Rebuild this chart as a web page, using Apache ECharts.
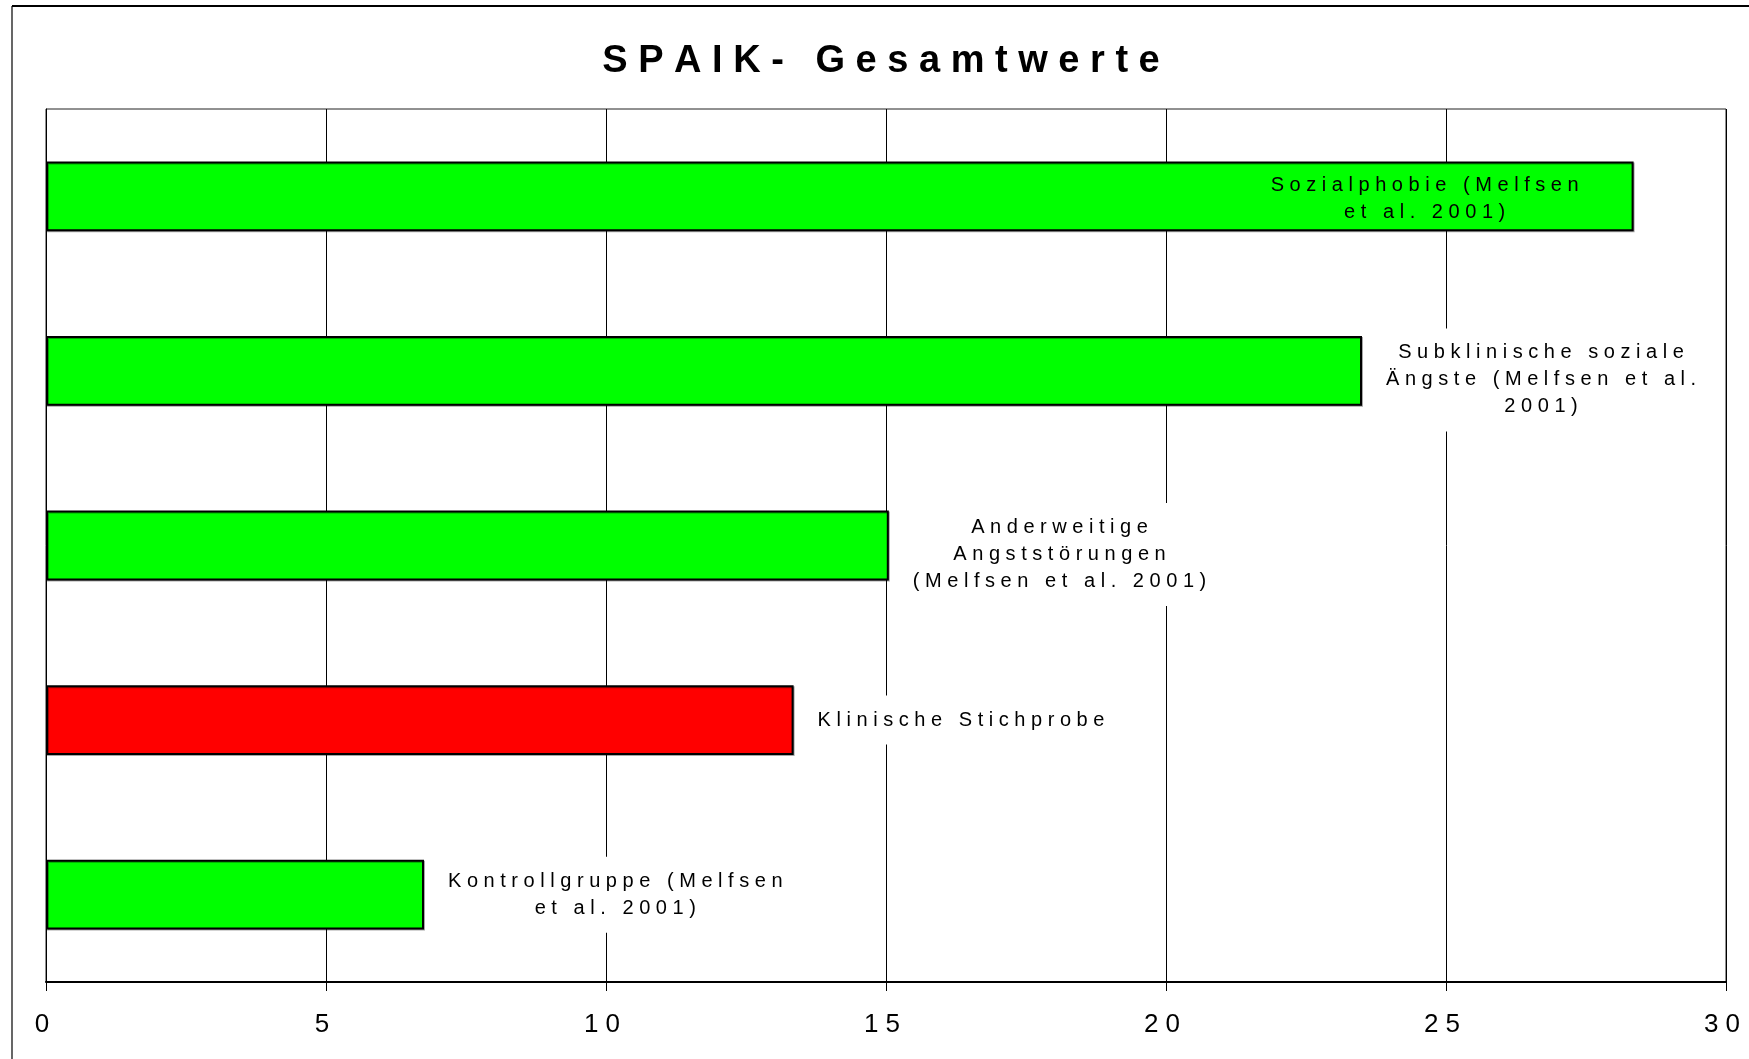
<!DOCTYPE html>
<html>
<head>
<meta charset="utf-8">
<title>SPAIK- Gesamtwerte</title>
<script src="https://cdn.jsdelivr.net/npm/echarts@6/dist/echarts.min.js"></script>
<style>
  html, body { margin: 0; padding: 0; background: #fff; }
  #main { width: 1749px; height: 1059px; }
</style>
</head>
<body>
<div id="main"></div>
<script>
  // Werte
  const chartTitle = 'SPAIK- Gesamtwerte'
  const categories = [
    'Sozialphobie (Melfsen\net al. 2001)',
    'Subklinische soziale\nÄngste (Melfsen et al.\n2001)',
    'Anderweitige\nAngststörungen\n(Melfsen et al. 2001)',
    'Klinische Stichprobe',
    'Kontrollgruppe (Melfsen\net al. 2001)'
  ]
  const values = [28.35, 23.5, 15.05, 13.35, 6.75]
  const xTicks = [0, 5, 10, 15, 20, 25, 30]
  const ownSample = 'Klinische Stichprobe'

  const font = '"Liberation Sans", Arial, sans-serif'
  const labelSize = 20
  const labelGap = 24

  // gesperrte Schrift wie im Original nachbilden
  function spread(s, wordGap) {
    return s.split('\n').map(line =>
      line.split(' ').map(w => Array.from(w).join(' ')).join(wordGap || '   ')
    ).join('\n')
  }

  const ctx = document.createElement('canvas').getContext('2d')
  function textWidth(s) {
    ctx.font = labelSize + 'px ' + font
    return Math.max(...s.split('\n').map(l => ctx.measureText(l).width))
  }

  const chart = echarts.init(document.getElementById('main'))

  const option = {
    animation: false,
    backgroundColor: '#fff',
    title: {
      text: spread(chartTitle, '   '),
      left: 881,
      top: 43,
      padding: 0,
      textAlign: 'center',
      textStyle: {
        fontFamily: font,
        fontSize: 38,
        fontWeight: 'bold',
        color: '#000'
      }
    },
    graphic: [
      { type: 'line', shape: { x1: 12, y1: 6, x2: 1760, y2: 6 }, style: { stroke: '#000', lineWidth: 2 } },
      { type: 'line', shape: { x1: 12, y1: 6, x2: 12, y2: 1070 }, style: { stroke: '#000', lineWidth: 1.2 } }
    ],
    grid: {
      left: 46,
      right: 23,
      top: 109,
      bottom: 77,
      show: true,
      borderColor: '#222',
      borderWidth: 1
    },
    xAxis: {
      type: 'value',
      min: xTicks[0],
      max: xTicks[xTicks.length - 1],
      interval: xTicks[1] - xTicks[0],
      axisLine: { show: true, lineStyle: { color: '#000', width: 2 } },
      axisTick: { show: true, length: 9, lineStyle: { color: '#000', width: 1 } },
      axisLabel: {
        margin: 30,
        padding: [0, 8, 0, 0],
        fontFamily: font,
        fontSize: 26,
        color: '#000',
        formatter: v => String(v).split('').join(' ')
      },
      splitLine: { show: true, lineStyle: { color: '#000', width: 1 } }
    },
    yAxis: {
      type: 'category',
      inverse: true,
      data: categories,
      axisLine: { show: true, lineStyle: { color: '#000', width: 1 } },
      axisTick: { show: false },
      axisLabel: { show: false },
      splitLine: { show: false }
    },
    series: [{
      type: 'bar',
      barWidth: '40%',
      data: values,
      itemStyle: {
        borderColor: '#000',
        borderWidth: 2,
        shadowColor: 'rgba(0,0,0,0.35)',
        shadowOffsetX: 1,
        shadowOffsetY: 1
      }
    }]
  }

  chart.setOption(option)

  // Beschriftung rechts neben dem Balken, sonst im Balken
  const plotRight = chart.convertToPixel({ xAxisIndex: 0 }, xTicks[xTicks.length - 1])
  const data = values.map((v, i) => {
    const end = chart.convertToPixel({ xAxisIndex: 0 }, v)
    const text = spread(categories[i])
    const w = textWidth(text)
    const lines = text.split('\n').length
    const outside = end + labelGap + w + 10 < plotRight
    return {
      value: v,
      itemStyle: { color: categories[i] === ownSample ? '#ff0000' : '#00ff00' },
      label: {
        show: true,
        position: outside ? 'right' : 'insideRight',
        distance: outside ? labelGap + w / 2 : 55 + w / 2,
        offset: [0, lines >= 3 ? 9 : (outside ? 0 : 3)],
        align: 'center',
        verticalAlign: 'middle',
        formatter: text,
        fontFamily: font,
        fontSize: labelSize,
        lineHeight: 27,
        color: '#000',
        backgroundColor: outside ? '#fff' : 'transparent',
        padding: [11, 6]
      }
    }
  })

  chart.setOption({ series: [{ data: data }] })
</script>
</body>
</html>
